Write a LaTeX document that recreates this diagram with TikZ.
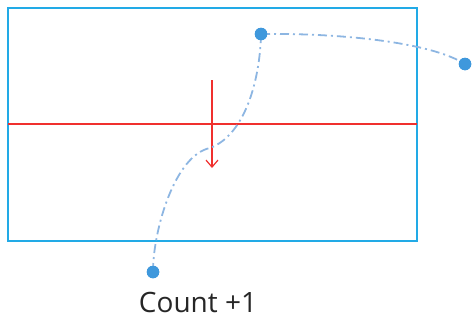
\documentclass[tikz,border=0pt]{standalone}
\usepackage{fontspec}
\setmainfont{Open Sans}
\usepackage{tikz}
\usetikzlibrary{arrows.meta}
\definecolor{frameblue}{HTML}{22AAE6}
\definecolor{pathblue}{HTML}{8DB6E2}
\definecolor{dotblue}{HTML}{3F98DC}
\definecolor{lred}{HTML}{F0302E}
\tikzstyle{frame} = [draw=frameblue, line width=1.3pt]
\tikzstyle{track} = [draw=pathblue, line width=1.8pt, dash pattern=on 9pt off 4pt on 2pt off 4pt]
\tikzstyle{dot} = [circle, fill=dotblue, inner sep=0pt, minimum size=12.5pt]
\tikzstyle{redline} = [draw=lred, line width=1.2pt]

\begin{document}
\begin{tikzpicture}[x=1pt, y=-1pt]
\useasboundingbox (0,0) rectangle (472,327);
% box and threshold
\draw[frame] (8,8) rectangle (417,241);
\draw[redline] (8,124) -- (417,124);
\coordinate (a1) at (212,80);
\coordinate (a2) at (212,168);
\draw[redline, -{Straight Barb[length=7pt, width=12pt]}] (a1) -- (a2);
% track points
\node[dot] (p1) at (153,272) {};
\node[dot] (p2) at (261,34) {};
\node[dot] (p3) at (465,64) {};
\coordinate (m) at (210,148);
% dashed track
\draw[track] (p1.center) .. controls (153,230) and (175,155) .. (m)
  .. controls (245,135) and (260,80) .. (p2.center);
\draw[track] (p2.center) .. controls (340,33) and (430,42) .. (p3.center);
\node[dot] at (p1) {};
\node[dot] at (p2) {};
\node[dot] at (p3) {};
% label
\node[font=\fontsize{28}{32}\selectfont, text=black!85] (count) at (198,302) {Count +1};
\end{tikzpicture}
\end{document}
